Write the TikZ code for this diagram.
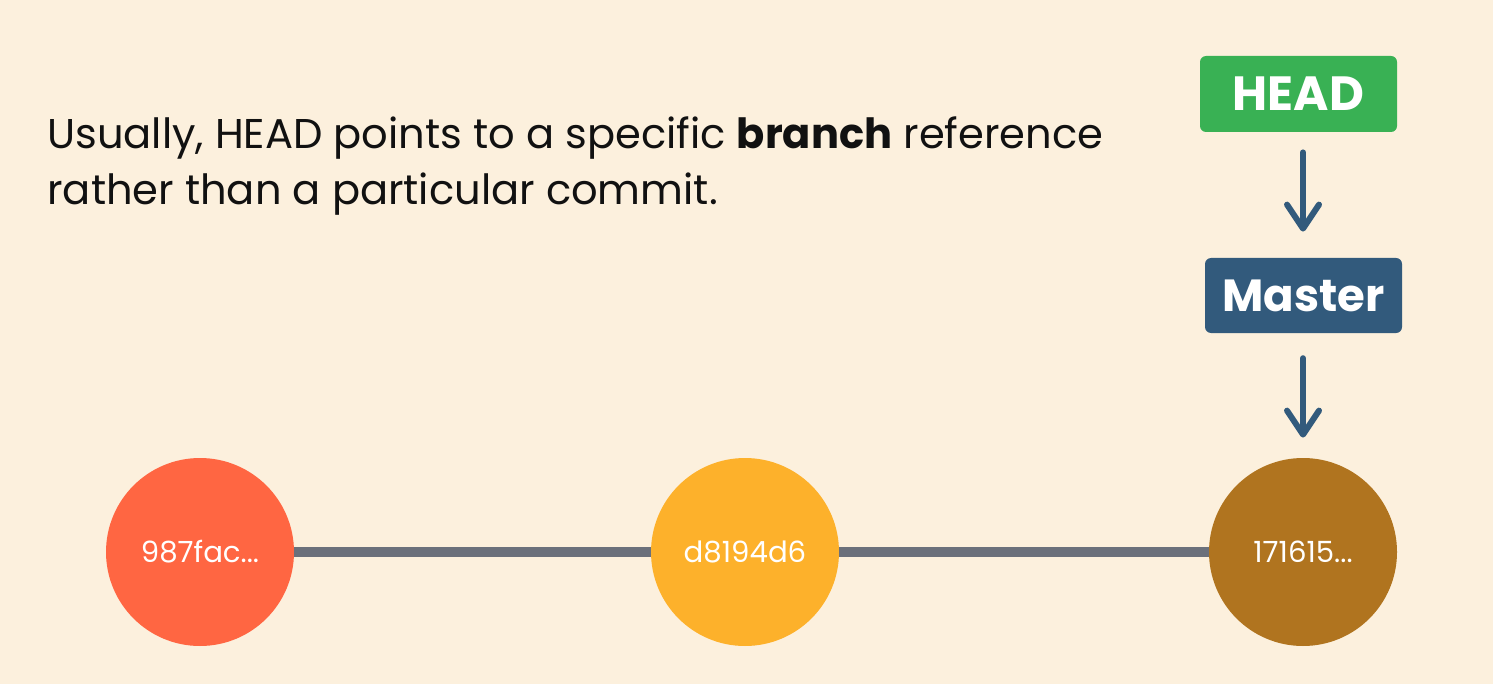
\documentclass[tikz,border=0pt]{standalone}
\usepackage{fontspec}
\setmainfont{Poppins}
\usetikzlibrary{arrows.meta}
\definecolor{bg}{HTML}{FCF0DD}
\definecolor{cred}{HTML}{FF6642}
\definecolor{cyel}{HTML}{FDB12B}
\definecolor{cbrown}{HTML}{B0741F}
\definecolor{linegray}{HTML}{6B707B}
\definecolor{headgreen}{HTML}{39B154}
\definecolor{masterblue}{HTML}{325A7C}
\definecolor{txt}{HTML}{111111}
\tikzset{
  commit/.style={circle, minimum size=94pt, inner sep=0pt, text=white,
    font=\fontsize{14.6}{17}\selectfont},
  refbox/.style={rectangle, rounded corners=3pt, inner sep=0pt, text=white},
  pointer/.style={draw=masterblue, line width=3pt, line cap=round,
    -{Straight Barb[length=12pt, width=16pt, line width=3pt, round]}},
  bodytext/.style={anchor=base west, inner sep=0pt, text=txt,
    font=\fontsize{20.8}{24}\selectfont}
}
\begin{document}
\begin{tikzpicture}[x=0.5pt,y=-0.5pt]
\fill[bg] (0,0) rectangle (1493,684);
\useasboundingbox (0,0) rectangle (1493,684);

\node[bodytext] (line1) at (47,149) {Usually, HEAD points to a specific \textbf{branch} reference};
\node[bodytext] (line2) at (47,205) {rather than a particular commit.};

\node[refbox, fill=headgreen, minimum width=98.5pt, minimum height=38pt,
  font=\fontsize{24}{28}\selectfont\bfseries] (head) at (1298.5,94) {HEAD};
\node[refbox, fill=masterblue, minimum width=98.5pt, minimum height=37.5pt,
  font=\fontsize{22.5}{26}\selectfont\bfseries] (master) at (1303.5,295.5) {Master};

\node[commit, fill=cred] (c1) at (200,552) {987fac...};
\node[commit, fill=cyel] (c2) at (745,552) {d8194d6};
\node[commit, fill=cbrown] (c3) at (1303,552) {171615...};

\draw[linegray, line width=5pt] (c1.east) -- (c2.west);
\draw[linegray, line width=5pt] (c2.east) -- (c3.west);

\draw[pointer, shorten <=10pt, shorten >=13pt] (head.south -| c3.north) -- (master.north -| c3.north);
\draw[pointer, shorten <=12.4pt, shorten >=10pt] (master.south -| c3.north) -- (c3.north);
\end{tikzpicture}
\end{document}
